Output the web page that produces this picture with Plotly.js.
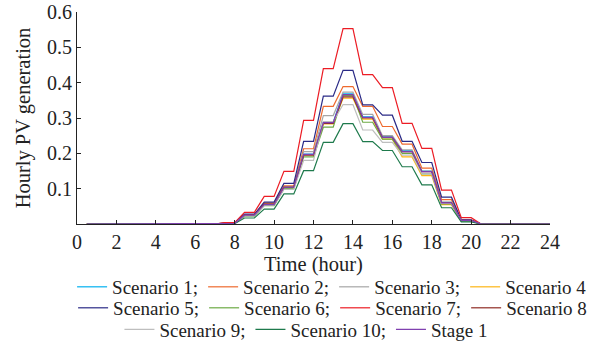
<!DOCTYPE html>
<html><head><meta charset="utf-8">
<script src="https://cdn.plot.ly/plotly-3.0.1.min.js"></script>
<style>html,body{margin:0;padding:0;background:#fff}#chart{width:613px;height:352px}</style>
</head><body><div id="chart"></div>
<script>
// hour index (value holds over the half hour ending at each hour)
const hours = [1,2,3,4,5,6,7,8,9,10,11,12,13,14,15,16,17,18,19,20,21,22,23,24];
const xTicks = [0,2,4,6,8,10,12,14,16,18,20,22,24];
const yTicks = [0.1,0.2,0.3,0.4,0.5,0.6];
const yTickText = ['0.1','0.2','0.3','0.4','0.5','0.6'];

const scenario1  = [0,0,0,0,0,0,0,0.002,0.025,0.056,0.105,0.198,0.288,0.368,0.303,0.247,0.208,0.150,0.061,0.010,0,0,0,0];
const scenario2  = [0,0,0,0,0,0,0,0.003,0.026,0.059,0.108,0.213,0.333,0.389,0.333,0.276,0.226,0.158,0.069,0.011,0,0,0,0];
const scenario3  = [0,0,0,0,0,0,0,0.002,0.024,0.055,0.100,0.205,0.307,0.373,0.310,0.250,0.210,0.150,0.062,0.010,0,0,0,0];
const scenario4  = [0,0,0,0,0,0,0,0.002,0.024,0.054,0.100,0.196,0.283,0.356,0.297,0.240,0.190,0.137,0.055,0.008,0,0,0,0];
const scenario5  = [0,0,0,0,0,0,0,0.003,0.028,0.062,0.115,0.234,0.362,0.435,0.337,0.308,0.234,0.174,0.076,0.012,0,0,0,0];
const scenario6  = [0,0,0,0,0,0,0,0.002,0.022,0.052,0.100,0.190,0.274,0.364,0.288,0.240,0.200,0.142,0.057,0.008,0,0,0,0];
const scenario7  = [0,0,0,0,0,0,0,0.004,0.033,0.078,0.149,0.293,0.440,0.553,0.423,0.386,0.285,0.214,0.096,0.018,0,0,0,0];
const scenario8  = [0,0,0,0,0,0,0,0.002,0.025,0.056,0.104,0.195,0.285,0.360,0.300,0.245,0.205,0.148,0.060,0.010,0,0,0,0];
const scenario9  = [0,0,0,0,0,0,0,0.002,0.023,0.053,0.098,0.180,0.290,0.338,0.266,0.231,0.195,0.142,0.058,0.009,0,0,0,0];
const scenario10 = [0,0,0,0,0,0,0,0.001,0.017,0.042,0.085,0.151,0.231,0.284,0.233,0.208,0.162,0.111,0.046,0.006,0,0,0,0];
const stage1     = [0,0,0,0,0,0,0,0.002,0.025,0.055,0.104,0.197,0.287,0.366,0.302,0.245,0.205,0.148,0.060,0.010,0,0,0,0];

const names = ['Scenario 1;','Scenario 2;','Scenario 3;','Scenario 4','Scenario 5;','Scenario 6;','Scenario 7;','Scenario 8','Scenario 9;','Scenario 10;','Stage 1'];
const seriesList = [scenario1,scenario2,scenario3,scenario4,scenario5,scenario6,scenario7,scenario8,scenario9,scenario10,stage1];
const colors = ['#00B0F0','#EE6A2E','#A6A6A6','#FDB515','#2A2A86','#6DAA45','#EC1C24','#8E2B24','#BEBEBE','#1E7A4C','#8040B0'];
const legendIds = ['legend','legend','legend','legend','legend2','legend2','legend2','legend2','legend3','legend3','legend3'];

function stepX(){ const xs=[]; hours.forEach(h=>{ xs.push(h-0.5, h); }); return xs; }
function stepY(v){ const ys=[]; v.forEach(y=>{ ys.push(y, y); }); return ys; }

const traces = seriesList.map((s,i)=>({
  type:'scatter', mode:'lines', x: stepX(), y: stepY(s), name: names[i],
  line:{color:colors[i], width:1.2}, legend: legendIds[i], hoverinfo:'skip'
}));

const fam = 'Liberation Serif, Times New Roman, serif';
const tickFont = {family:fam, size:20, color:'#222'};
const titleFont = {family:fam, size:20.5, color:'#222'};
const legFont = {family:fam, size:19, color:'#222'};
function leg(x, xanchor, y){ return {orientation:'h', x:x, xanchor:xanchor, y:y, yanchor:'middle',
  font:legFont, itemwidth:30, bgcolor:'rgba(0,0,0,0)', traceorder:'normal', tracegroupgap:0, borderwidth:0}; }

const layout = {
  width:613, height:352, paper_bgcolor:'#fff', plot_bgcolor:'#fff',
  margin:{l:77, r:63, t:12, b:128, autoexpand:false},
  font:tickFont, showlegend:true,
  xaxis:{range:[0,24], tickvals:xTicks, ticktext:xTicks.map(String), ticks:'inside', ticklen:4, tickcolor:'#222',
    showline:true, linecolor:'#222', linewidth:1, showgrid:false, zeroline:false, tickfont:tickFont, tickangle:0, automargin:false,
    title:{text:'Time (hour)', font:titleFont, standoff:2}},
  yaxis:{range:[0,0.6], tickvals:yTicks, ticktext:yTickText, ticks:'inside', ticklen:4, tickcolor:'#222',
    showline:true, linecolor:'#222', linewidth:1, showgrid:false, zeroline:false, tickfont:tickFont, automargin:false,
    title:{text:'Hourly PV generation', font:titleFont, standoff:10}},
  legend:leg(1.089,'right',-0.297), legend2:leg(1.089,'right',-0.396), legend3:leg(0.484,'center',-0.498)
};
Plotly.newPlot('chart', traces, layout, {staticPlot:true, displayModeBar:false});
</script></body></html>
